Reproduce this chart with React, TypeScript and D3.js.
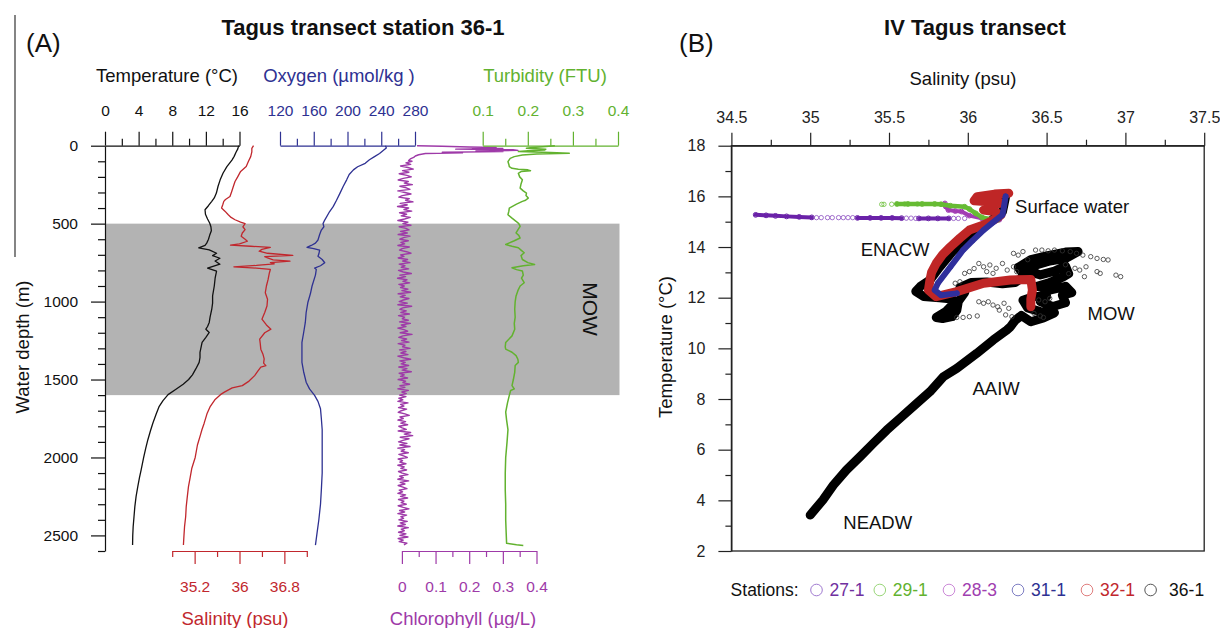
import React, { useEffect, useRef } from 'react';
import * as d3 from 'd3';

const FONT = '"Liberation Sans", Arial, Helvetica, sans-serif';

// ---------- (A) station 36-1 profiles : [depth (m), value]
const temperature = [
  [0, 15.9], [20, 15.8], [40, 15.6], [70, 15.35], [92, 15.1], [134, 14.5], [175, 14.05], [219, 13.7],
  [260, 13.45], [304, 13.25], [335, 13.0], [357, 12.7], [385, 12.3], [411, 11.9], [440, 11.95], [470, 12.2],
  [496, 12.45], [520, 12.6], [545, 12.65], [575, 12.45], [602, 12.3], [625, 12.1], [640, 11.9], [655, 11.15],
  [668, 12.4], [690, 13.27], [705, 12.8], [722, 13.67], [740, 13.1], [760, 13.67], [785, 12.2], [805, 13.27],
  [850, 13.1], [900, 13.0], [964, 12.8], [1010, 12.8], [1049, 12.7], [1100, 12.5], [1134, 12.4], [1160, 12.2],
  [1177, 12.0], [1198, 12.4], [1230, 12.0], [1262, 11.55], [1300, 11.4], [1326, 11.3], [1360, 11.3],
  [1390, 11.2], [1432, 10.8], [1470, 10.4], [1500, 9.95], [1530, 9.3], [1564, 8.4], [1597, 7.5], [1635, 6.9],
  [1672, 6.45], [1720, 6.1], [1779, 5.7], [1830, 5.4], [1886, 5.1], [1940, 4.85], [2000, 4.6], [2079, 4.3],
  [2130, 4.1], [2187, 3.9], [2250, 3.7], [2315, 3.55], [2380, 3.45], [2444, 3.35], [2500, 3.3], [2562, 3.28],
];

const salinity = [
  [0, 36.25], [17, 36.22], [40, 36.22], [70, 36.2], [100, 36.16], [134, 36.12], [165, 36.02], [198, 35.97],
  [230, 35.92], [262, 35.89], [295, 35.86], [326, 35.83], [345, 35.75], [357, 35.72], [380, 35.7], [400, 35.68],
  [420, 35.74], [443, 35.8], [460, 35.85], [475, 35.92], [490, 36.02], [500, 36.1], [520, 36.06], [538, 36.1],
  [560, 36.05], [581, 36.03], [600, 36.1], [613, 36.14], [630, 36.0], [638, 35.84], [645, 36.2], [652, 36.55],
  [665, 36.4], [677, 36.35], [690, 36.5], [704, 36.95], [712, 36.45], [720, 36.5], [733, 36.6], [741, 36.9],
  [750, 36.55], [758, 36.62], [768, 36.3], [777, 35.9], [785, 36.3], [794, 36.55], [820, 36.53], [858, 36.51],
  [900, 36.48], [943, 36.46], [985, 36.5], [1028, 36.49], [1070, 36.45], [1113, 36.4], [1150, 36.48],
  [1177, 36.56], [1200, 36.45], [1241, 36.36], [1270, 36.37], [1305, 36.38], [1340, 36.42], [1368, 36.44],
  [1395, 36.43], [1411, 36.47], [1420, 36.38], [1450, 36.32], [1475, 36.27], [1510, 36.17], [1539, 36.05],
  [1554, 35.87], [1581, 35.73], [1597, 35.66], [1630, 35.56], [1672, 35.48], [1720, 35.42], [1780, 35.37],
  [1822, 35.33], [1860, 35.3], [1920, 35.25], [2000, 35.21], [2069, 35.15], [2130, 35.12], [2187, 35.09],
  [2250, 35.07], [2315, 35.05], [2380, 35.04], [2444, 35.02], [2500, 35.01], [2562, 35.0],
];

const oxygen = [
  [0, 245], [15, 246], [28, 243], [50, 238], [70, 232], [90, 226], [113, 221], [135, 212], [155, 207],
  [185, 202], [219, 199], [260, 195], [306, 191], [350, 187], [391, 183], [430, 178], [477, 173], [500, 171],
  [520, 172], [541, 169], [570, 167], [605, 165], [625, 162], [640, 157], [652, 152], [660, 160], [670, 167],
  [695, 166], [709, 165], [730, 170], [751, 173], [770, 168], [785, 161], [794, 163], [830, 162], [900, 158],
  [950, 156], [1006, 153], [1070, 151], [1134, 150], [1200, 148], [1262, 146], [1330, 146], [1390, 146],
  [1450, 148], [1517, 151], [1560, 155], [1602, 161], [1640, 165], [1688, 168], [1750, 169], [1822, 170],
  [1900, 170], [2000, 170], [2100, 170], [2208, 169], [2300, 168], [2401, 166], [2480, 164], [2562, 162],
];

const turbidity = [
  [0, 0.26], [6, 0.233], [12, 0.21], [17, 0.197], [22, 0.24], [28, 0.237], [33, 0.2], [38, 0.179], [44, 0.25],
  [49, 0.292], [54, 0.22], [60, 0.188], [70, 0.17], [81, 0.161], [102, 0.156], [120, 0.158], [134, 0.159],
  [145, 0.165], [151, 0.179], [155, 0.2], [160, 0.206], [166, 0.185], [177, 0.179], [200, 0.182], [219, 0.188],
  [245, 0.185], [272, 0.183], [290, 0.19], [304, 0.197], [320, 0.196], [336, 0.201], [350, 0.195], [357, 0.188],
  [375, 0.175], [400, 0.159], [420, 0.158], [443, 0.156], [465, 0.165], [485, 0.174], [500, 0.18], [517, 0.183],
  [540, 0.178], [560, 0.174], [575, 0.18], [592, 0.183], [610, 0.17], [625, 0.158], [634, 0.151], [645, 0.165],
  [655, 0.179], [670, 0.185], [687, 0.192], [705, 0.185], [730, 0.188], [750, 0.2], [762, 0.215], [770, 0.19],
  [783, 0.165], [795, 0.175], [804, 0.188], [830, 0.19], [850, 0.186], [879, 0.192], [900, 0.183], [930, 0.178],
  [964, 0.174], [1000, 0.172], [1049, 0.171], [1100, 0.172], [1140, 0.17], [1177, 0.171], [1220, 0.165],
  [1262, 0.151], [1290, 0.15], [1305, 0.151], [1325, 0.165], [1347, 0.174], [1370, 0.178], [1390, 0.179],
  [1410, 0.172], [1454, 0.171], [1500, 0.168], [1539, 0.165], [1560, 0.17], [1570, 0.162], [1602, 0.159],
  [1650, 0.155], [1709, 0.151], [1760, 0.153], [1822, 0.156], [1900, 0.154], [2000, 0.151], [2100, 0.15],
  [2208, 0.15], [2300, 0.151], [2401, 0.151], [2480, 0.152], [2551, 0.153], [2560, 0.175], [2565, 0.19],
];

const chlorophyll = [
  [0, 0.045], [4, 0.12], [8, 0.2], [12, 0.28], [15, 0.21], [18, 0.3], [22, 0.16], [26, 0.33], [30, 0.345],
  [34, 0.22], [38, 0.3], [42, 0.12], [46, 0.18], [50, 0.07], [58, 0.05], [66, 0.04], [75, 0.035], [85, 0.025],
  [95, 0.02],
  [100, 0.03], [110, 0.012], [120, 0.026], [130, -0.004], [140, 0.018], [150, 0.034], [160, 0.002], [170, 0.021],
  [180, -0.008], [190, 0.015], [200, 0.028], [210, 0.004], [220, -0.011], [230, 0.019], [240, 0.007], [250, 0.031],
  [260, -0.006], [270, 0.013], [280, 0.024], [290, -0.012], [300, 0.009], [310, 0.027], [320, 0.001], [330, -0.009],
  [340, 0.022], [350, 0.011], [360, 0.033], [370, -0.005], [380, 0.016], [390, -0.013], [400, 0.02], [410, 0.006],
  [420, 0.029], [430, -0.007], [440, 0.014], [450, -0.002], [460, 0.025], [470, 0.008], [480, -0.012], [490, 0.018],
  [500, 0.003], [510, 0.027], [520, -0.008], [530, 0.012], [540, 0.021], [550, -0.004], [560, 0.016], [570, -0.011],
  [580, 0.024], [590, 0.005], [600, -0.006], [610, 0.019], [620, -0.003], [630, 0.008], [640, -0.012], [650, 0.022],
  [660, 0.001], [670, -0.007], [680, 0.014], [690, 0.027], [700, -0.004], [710, 0.006], [720, -0.011], [730, 0.017],
  [740, 0.002], [750, 0.024], [760, -0.008], [770, 0.009], [780, -0.002], [790, 0.02], [800, -0.01], [810, 0.004],
  [820, 0.028], [830, -0.006], [840, 0.011], [850, -0.013], [860, 0.015], [870, 0.003], [880, 0.023], [890, -0.009],
  [900, 0.007], [910, -0.004], [920, 0.018], [930, 0.0], [940, 0.026], [950, -0.011], [960, 0.01], [970, -0.005],
  [980, 0.021], [990, 0.004], [1000, -0.008], [1010, 0.016], [1020, -0.012], [1030, 0.029], [1040, 0.002],
  [1050, -0.006], [1060, 0.013], [1070, -0.003], [1080, 0.022], [1090, -0.01], [1100, 0.008], [1110, 0.001],
  [1120, 0.019], [1130, -0.007], [1140, 0.025], [1150, -0.002], [1160, 0.012], [1170, -0.012], [1180, 0.006],
  [1190, 0.017], [1200, -0.005], [1210, 0.03], [1220, 0.003], [1230, -0.009], [1240, 0.014], [1250, -0.001],
  [1260, 0.021], [1270, -0.011], [1280, 0.009], [1290, 0.002], [1300, 0.024], [1310, -0.007], [1320, 0.012],
  [1330, -0.003], [1340, 0.018], [1350, -0.012], [1360, 0.005], [1370, 0.026], [1380, -0.006], [1390, 0.01],
  [1400, -0.002], [1410, 0.02], [1420, -0.009], [1430, 0.015], [1440, 0.001], [1450, 0.028], [1460, -0.008],
  [1470, 0.007], [1480, -0.004], [1490, 0.017], [1500, -0.011], [1510, 0.011], [1520, 0.003], [1530, 0.023],
  [1540, -0.006], [1550, 0.009], [1560, -0.012], [1570, 0.019], [1580, 0.0], [1590, 0.013], [1600, -0.007],
  [1610, 0.012], [1620, -0.009], [1630, 0.003], [1640, -0.012], [1650, 0.018], [1660, -0.004], [1670, 0.006],
  [1680, -0.01], [1690, 0.014], [1700, -0.002], [1710, -0.011], [1720, 0.009], [1730, 0.022], [1740, -0.006],
  [1750, 0.004], [1760, -0.012], [1770, 0.011], [1780, -0.003], [1790, 0.017], [1800, -0.009], [1810, 0.001],
  [1820, 0.013], [1830, -0.011], [1840, 0.026], [1850, 0.007], [1860, 0.032], [1870, -0.005], [1880, 0.021],
  [1890, 0.003], [1900, -0.01], [1910, 0.015], [1920, -0.006], [1930, 0.024], [1940, -0.012], [1950, 0.008],
  [1960, -0.002], [1970, 0.019], [1980, -0.009], [1990, 0.005], [2000, 0.016], [2010, -0.011], [2020, 0.002],
  [2030, -0.006], [2040, 0.012], [2050, -0.012], [2060, 0.007], [2070, -0.003], [2080, 0.014], [2090, -0.01],
  [2100, 0.001], [2110, 0.018], [2120, -0.007], [2130, 0.004], [2140, -0.012], [2150, 0.02], [2160, -0.005],
  [2170, 0.009], [2180, -0.011], [2190, 0.003], [2200, 0.015], [2210, -0.008], [2220, 0.002], [2230, -0.012],
  [2240, 0.011], [2250, -0.004], [2260, 0.017], [2270, -0.01], [2280, 0.006], [2290, -0.002], [2300, 0.013],
  [2310, -0.011], [2320, 0.004], [2330, 0.021], [2340, -0.007], [2350, 0.008], [2360, -0.012], [2370, 0.014],
  [2380, -0.003], [2390, 0.005], [2400, -0.009], [2410, 0.016], [2420, -0.005], [2430, 0.01], [2440, -0.012],
  [2450, 0.019], [2460, -0.002], [2470, 0.007], [2480, -0.01], [2490, 0.012], [2500, -0.006], [2510, 0.018],
  [2520, -0.011], [2530, 0.004], [2540, -0.008], [2550, 0.015], [2560, 0.006],
];

const mowLayer = [500, 1600];

// axis ticks, panel A
const tempMajor = [0, 4, 8, 12, 16];
const tempMinor = [2, 6, 10, 14];
const oxyMajor = [120, 160, 200, 240, 280];
const oxyMinor = [140, 180, 220, 260];
const turbMajor = [0.1, 0.2, 0.3, 0.4];
const turbMinor = [0.15, 0.25, 0.35];
const salMajor = [35.2, 36, 36.8];
const salMinor = [34.8, 35.6, 36.4, 37.2];
const chlMajor = [0, 0.1, 0.2, 0.3, 0.4];
const chlMinor = [0.05, 0.15, 0.25, 0.35];
const depthMajor = [0, 500, 1000, 1500, 2000, 2500];
const depthMinor = [100, 200, 300, 400, 600, 700, 800, 900, 1100, 1200, 1300, 1400, 1600, 1700, 1800, 1900,
  2100, 2200, 2300, 2400, 2600];

// ---------- (B) T-S diagram : [salinity, temperature]
const st36 = [
  [36.24, 16.0], [36.23, 15.7], [36.22, 15.4], [36.12, 14.9], [36.0, 14.4], [35.9, 13.8], [35.82, 13.2],
  [35.76, 12.7], [35.7, 12.45], [35.67, 12.25], [35.72, 12.05], [35.82, 12.0], [35.9, 11.95], [35.9, 11.7],
  [35.86, 11.45], [35.8, 11.22], [35.84, 11.18], [35.9, 11.25], [35.93, 11.5], [35.94, 11.85], [35.98, 12.2],
  [35.95, 12.4], [36.02, 12.6], [36.12, 12.62], [36.22, 12.55], [36.3, 12.6], [36.36, 12.85], [36.32, 13.2],
  [36.4, 13.5], [36.5, 13.65], [36.62, 13.8], [36.7, 13.82], [36.62, 13.55], [36.52, 13.45], [36.44, 13.3],
  [36.38, 13.05], [36.46, 12.9], [36.55, 13.05], [36.62, 13.25], [36.64, 12.95], [36.6, 12.8], [36.52, 12.6],
  [36.44, 12.45], [36.52, 12.3], [36.62, 12.45], [36.66, 12.2], [36.6, 12.1], [36.62, 11.8], [36.54, 11.65],
  [36.46, 11.85], [36.5, 12.05], [36.42, 12.05], [36.35, 11.9], [36.38, 11.6], [36.46, 11.45], [36.55, 11.4],
  [36.48, 11.2], [36.4, 11.05], [36.34, 11.3], [36.3, 11.1], [36.27, 10.85], [36.247, 10.72],
  [36.162, 10.33], [36.056, 9.8], [35.93, 9.21], [35.845, 8.88], [35.76, 8.29], [35.676, 7.83], [35.57, 7.24],
  [35.485, 6.77], [35.4, 6.25], [35.316, 5.72], [35.23, 5.2], [35.147, 4.6], [35.08, 4.01], [35.0, 3.42],
];
const st36Scatter = [
  [36.43, 13.88], [36.47, 13.88], [36.51, 13.85], [36.55, 13.88], [36.6, 13.85], [36.65, 13.82], [36.69, 13.75],
  [36.73, 13.68], [36.78, 13.62], [36.82, 13.55], [36.86, 13.51], [36.89, 13.49], [36.68, 13.16], [36.71, 13.09],
  [36.75, 13.22], [36.82, 13.03], [36.84, 12.96], [36.74, 12.83], [36.94, 12.89], [36.97, 12.83], [36.29, 13.75],
  [36.32, 13.68], [36.35, 13.82], [36.07, 13.35], [36.1, 13.22], [36.14, 13.29], [36.18, 13.16], [36.22, 13.35],
  [36.25, 13.09], [36.29, 13.22], [36.31, 13.03], [36.12, 13.03], [36.16, 12.96], [35.98, 12.96], [36.01, 13.03],
  [35.92, 12.57], [35.95, 12.63], [36.07, 11.84], [36.1, 11.78], [36.13, 11.84], [36.16, 11.71], [36.19, 11.64],
  [36.23, 11.78], [36.26, 11.58], [36.2, 11.51], [35.93, 11.22], [35.97, 11.22], [36.01, 11.25], [36.06, 11.28],
  [36.24, 11.32], [36.28, 11.25], [36.42, 11.38], [36.46, 11.28], [36.48, 11.22], [36.45, 11.91], [36.49, 11.84],
  [36.52, 11.97], [36.62, 13.3], [36.64, 12.95], [36.38, 13.5], [36.04, 13.15],
];
const st32 = [
  [36.26, 16.12], [36.17, 16.09], [36.06, 15.99], [36.04, 15.83], [36.13, 15.79], [36.21, 15.75], [36.15, 15.59],
  [36.1, 15.46], [36.17, 15.4], [36.21, 15.26], [36.17, 15.09], [36.1, 14.87], [36.01, 14.67], [35.95, 14.35],
  [35.89, 14.01], [35.84, 13.7], [35.8, 13.36], [35.77, 13.0], [35.76, 12.7], [35.75, 12.3], [35.8, 12.04],
  [35.93, 12.24], [36.1, 12.57], [36.27, 12.7], [36.4, 12.72], [36.41, 12.3], [36.4, 11.95], [36.4, 11.64],
];
const st31 = [
  [36.24, 16.0], [36.23, 15.6], [36.22, 15.27], [36.16, 14.97], [36.1, 14.67], [36.03, 14.25], [35.97, 13.88],
  [35.89, 13.22], [35.81, 12.57], [35.79, 12.3], [35.83, 12.1], [35.93, 12.17],
];
const st29 = [
  [35.55, 15.7], [35.62, 15.7], [35.71, 15.7], [35.79, 15.7], [35.83, 15.69], [35.89, 15.63], [35.98, 15.59],
  [36.01, 15.5], [36.05, 15.33], [36.09, 15.17], [36.15, 15.09], [36.19, 15.07],
];
const st29Open = [[35.454, 15.685], [35.468, 15.685], [35.517, 15.69], [35.6, 15.7], [35.68, 15.7]];
const st28 = [
  [35.855, 15.72], [35.86, 15.6], [35.877, 15.46], [35.92, 15.42], [35.96, 15.4], [36.01, 15.24], [36.09, 15.13],
  [36.15, 15.1], [36.2, 15.08],
];
const st27a = [[34.654, 15.27], [34.72, 15.25], [34.78, 15.23], [34.85, 15.21], [34.93, 15.19], [35.01, 15.17]];
const st27b = [[35.3, 15.15], [35.38, 15.15], [35.45, 15.15], [35.52, 15.15], [35.58, 15.14]];
const st27c = [[35.69, 15.13], [35.75, 15.13], [35.81, 15.13], [35.88, 15.13]];
const st27Open = [
  [35.04, 15.16], [35.07, 15.16], [35.11, 15.16], [35.14, 15.16], [35.18, 15.16], [35.21, 15.16], [35.24, 15.16],
  [35.27, 15.16], [35.61, 15.14], [35.64, 15.14], [35.67, 15.13], [35.91, 15.13], [35.94, 15.13], [35.98, 15.13],
];

const tsSalMajor = [34.5, 35, 35.5, 36, 36.5, 37, 37.5];
const tsSalMinor = [34.75, 35.25, 35.75, 36.25, 36.75, 37.25];
const tsTempMajor = [2, 4, 6, 8, 10, 12, 14, 16, 18];
const tsTempMinor = [3, 5, 7, 9, 11, 13, 15, 17];

const waterMasses = [
  { name: 'Surface water', s: 36.3, t: 15.34 },
  { name: 'ENACW', s: 35.32, t: 13.63 },
  { name: 'MOW', s: 36.76, t: 11.1 },
  { name: 'AAIW', s: 36.03, t: 8.14 },
  { name: 'NEADW', s: 35.21, t: 2.85 },
];

const stations = ['27-1', '29-1', '28-3', '31-1', '32-1', '36-1'];
const stationColors = ['#6a22a8', '#66bb33', '#a23cb4', '#2f2f9c', '#bf2626', '#000000'];
const legendTextColors = ['#7030a0', '#62b22f', '#a040b0', '#2e3192', '#c1272d', '#111111'];
const legendRingColors = ['#a07ad0', '#9ad67a', '#cc8ad8', '#7f7fc4', '#e07f7f', '#555555'];

const C = { temp: '#111111', sal: '#c1272d', oxy: '#2e3192', chl: '#9e3aa8', turb: '#62b22f' };

export default function App() {
  const ref = useRef(null);

  useEffect(() => {
    const svg = d3.select(ref.current);
    svg.selectAll('*').remove();

    // ---------------- panel A scales
    const yDepth = d3.scaleLinear().domain([0, 2600]).range([145.7, 551]);
    const xTemp = d3.scaleLinear().domain([0, 16]).range([105, 239.5]);
    const xOxy = d3.scaleLinear().domain([120, 280]).range([280, 415]);
    const xTurb = d3.scaleLinear().domain([0.1, 0.4]).range([482.7, 618]);
    const xSal = d3.scaleLinear().domain([34.8, 37.2]).range([172.2, 306.8]);
    const xChl = d3.scaleLinear().domain([0, 0.4]).range([401.9, 536.5]);

    const axis = (orient, scale, major, minor, big, small, pad, color, y, x, fs) => {
      const make = orient === 'top' ? d3.axisTop : orient === 'bottom' ? d3.axisBottom : d3.axisLeft;
      const g = svg.append('g')
        .attr('transform', `translate(${x},${y})`)
        .attr('color', color);
      g.call(make(scale).tickValues(major).tickSize(big).tickSizeOuter(0).tickPadding(pad).tickFormat(d => String(d)));
      const gm = g.append('g').call(make(scale).tickValues(minor).tickSize(small).tickSizeOuter(0).tickFormat(() => ''));
      gm.select('.domain').remove();
      g.attr('font-family', FONT).attr('font-size', fs);
      g.selectAll('line, path').attr('stroke-width', 1.2);
      return g;
    };

    const text = (x, y, s, opts = {}) => {
      const t = svg.append('text')
        .attr('x', x).attr('y', y)
        .attr('font-family', FONT)
        .attr('font-size', opts.size || 18.5)
        .attr('fill', opts.color || '#111')
        .attr('text-anchor', opts.anchor || 'middle')
        .attr('font-weight', opts.bold ? 'bold' : 'normal')
        .text(s);
      if (opts.rotate) t.attr('transform', `rotate(${opts.rotate},${x},${y})`);
      return t;
    };

    // left bracket line
    svg.append('line').attr('x1', 15).attr('x2', 15).attr('y1', 15).attr('y2', 257)
      .attr('stroke', '#333').attr('stroke-width', 1.2);

    // MOW layer
    svg.append('rect')
      .attr('x', 105).attr('width', 619.5 - 105)
      .attr('y', yDepth(mowLayer[0])).attr('height', yDepth(mowLayer[1]) - yDepth(mowLayer[0]))
      .attr('fill', '#b3b3b3');
    text(590, 309, 'MOW', { size: 21, rotate: 90 }).attr('dominant-baseline', 'central');

    const profile = (data, xs, color, w) => {
      svg.append('path')
        .datum(data)
        .attr('d', d3.line().x(d => xs(d[1])).y(d => yDepth(d[0])))
        .attr('fill', 'none').attr('stroke', color).attr('stroke-width', w)
        .attr('stroke-linejoin', 'round');
    };
    profile(temperature, xTemp, C.temp, 1.3);
    profile(salinity, xSal, C.sal, 1.3);
    profile(oxygen, xOxy, C.oxy, 1.3);
    profile(chlorophyll, xChl, C.chl, 1.4);
    profile(turbidity, xTurb, C.turb, 1.5);

    axis('left', yDepth, depthMajor, depthMinor, 14, 7, 13, '#111', 0, 105, 15.5);
    axis('top', xTemp, tempMajor, tempMinor, 14, 7, 16, C.temp, 145.7, 0, 15.5);
    axis('top', xOxy, oxyMajor, oxyMinor, 14, 7, 16, C.oxy, 145.7, 0, 15.5);
    axis('top', xTurb, turbMajor, turbMinor, 14, 7, 16, C.turb, 145.7, 0, 15.5);
    axis('bottom', xSal, salMajor, salMinor, 13, 6, 17, C.sal, 551, 0, 15.5);
    axis('bottom', xChl, chlMajor, chlMinor, 13, 6, 17, C.chl, 551, 0, 15.5);

    text(363, 35, 'Tagus transect station 36-1', { size: 22, bold: true });
    text(26, 52, '(A)', { size: 26, anchor: 'start' });
    text(167, 82, 'Temperature (°C)', { color: C.temp });
    text(339, 82, 'Oxygen (µmol/kg )', { color: C.oxy });
    text(545, 82, 'Turbidity (FTU)', { color: C.turb });
    text(235, 625, 'Salinity (psu)', { color: C.sal });
    text(463, 625, 'Chlorophyll (µg/L)', { color: C.chl });
    text(29, 347, 'Water depth (m)', { rotate: -90 });

    // ---------------- panel B scales
    const xS = d3.scaleLinear().domain([34.5, 37.5]).range([731.4, 1204.2]);
    const yT = d3.scaleLinear().domain([2, 18]).range([551, 145.7]);

    svg.append('rect')
      .attr('x', xS(34.5)).attr('y', yT(18))
      .attr('width', xS(37.5) - xS(34.5)).attr('height', yT(2) - yT(18))
      .attr('fill', 'none').attr('stroke', '#222').attr('stroke-width', 1.3);

    const tsLine = d3.line().x(d => xS(d[0])).y(d => yT(d[1]));
    const series = (data, color, w) => {
      svg.append('path').datum(data).attr('d', tsLine)
        .attr('fill', 'none').attr('stroke', color).attr('stroke-width', w)
        .attr('stroke-linejoin', 'round').attr('stroke-linecap', 'round');
      svg.append('g').selectAll('circle').data(data).join('circle')
        .attr('cx', d => xS(d[0])).attr('cy', d => yT(d[1])).attr('r', 2.4)
        .attr('fill', 'none').attr('stroke', color).attr('stroke-width', 1);
    };
    const open = (data, color) => {
      svg.append('g').selectAll('circle').data(data).join('circle')
        .attr('cx', d => xS(d[0])).attr('cy', d => yT(d[1])).attr('r', 2.2)
        .attr('fill', 'none').attr('stroke', color).attr('stroke-width', 0.8);
    };

    series(st36, stationColors[5], 9);
    open(st36Scatter, '#333');
    series(st27a, stationColors[0], 4);
    series(st27b, stationColors[0], 4);
    series(st27c, stationColors[0], 4);
    open(st27Open, '#8a4cc0');
    series(st28, stationColors[2], 4);
    open(st29Open, '#6cbf3a');
    series(st29, stationColors[1], 4.5);
    series(st32, stationColors[4], 9);
    series(st31, stationColors[3], 6);

    axis('top', xS, tsSalMajor, tsSalMinor, 13, 6, 10, '#222', yT(18), 0, 16);
    axis('left', yT, tsTempMajor, tsTempMinor, 13, 6, 13, '#222', 0, xS(34.5), 16);

    waterMasses.forEach(w => text(xS(w.s), yT(w.t), w.name, { anchor: 'start' }));

    text(975, 35, 'IV Tagus transect', { size: 22, bold: true });
    text(679, 52, '(B)', { size: 26, anchor: 'start' });
    text(963, 84.5, 'Salinity (psu)');
    text(672, 347, 'Temperature (°C)', { rotate: -90 });

    // legend
    const legY = 596;
    text(730.6, legY, 'Stations:', { size: 17.5, anchor: 'start' });
    const ringX = [816.5, 879.8, 949, 1018, 1087, 1150.6];
    stations.forEach((s, i) => {
      svg.append('circle').attr('cx', ringX[i]).attr('cy', legY - 6).attr('r', 5.8)
        .attr('fill', 'none').attr('stroke', legendRingColors[i]).attr('stroke-width', 1);
      text(ringX[i] + (i === 5 ? 18.5 : 13), legY, s, { size: 17.5, anchor: 'start', color: legendTextColors[i] });
    });
  }, []);

  return (
    <svg
      ref={ref}
      width={1220}
      height={628}
      style={{ position: 'absolute', left: 0, top: 0, background: '#ffffff' }}
    />
  );
}
